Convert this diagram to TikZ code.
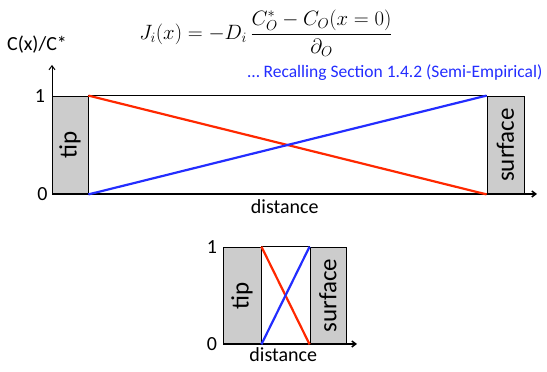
\documentclass[tikz,border=0pt]{standalone}
\usepackage{amsmath}
\usepackage{fontspec}
\setmainfont{Carlito}
\usetikzlibrary{arrows.meta, positioning, calc}

\begin{document}
\begin{tikzpicture}[
		x=1pt, y=1pt,
		>={Straight Barb[length=4pt,width=6pt]},
		wall/.style = {draw, thick, fill=black!20, rotate=90, inner sep=0pt, font=\fontsize{25}{28}\selectfont},
		axis/.style = {->, line width=1.5pt},
		label/.style = {font=\fontsize{20}{24}\selectfont},
		oxidized/.style = {line width=2.2pt, color={rgb,255:red,255;green,40;blue,0}},
		reduced/.style = {line width=2.2pt, color={rgb,255:red,35;green,45;blue,255}}
		]
		\useasboundingbox (0,0) rectangle (547,372);
		
		% large gap
		\node [wall, minimum width=98, minimum height=36] (tip) at (70,227) {tip};
		\node [wall, minimum width=98, minimum height=37] (surf) at (505.5,227) {surface};
		\coordinate (origin) at (52,178);
		\coordinate (xend) at (537,178);
		\coordinate (yend) at (52,307);
		
		\draw [axis] (origin) -- (xend);
		\draw [axis, line width=1pt] (origin) -- (yend);
		\draw [thick] (tip.south east) -- (surf.north east);
		
		\draw [oxidized] (tip.south east) -- (surf.north west);
		\draw [reduced] (tip.south west) -- (surf.north east);
		
		\node [label, left=3pt of tip.north east] (one) {1};
		\node [label, left=1pt of origin] (zero) {0};
		\node [label, below=2pt of $(origin)!0.48!(xend)$] (dist) {distance};
		\node [label] (ylab) at (37,327) {C(x)/C*};
		\node [label] (flux) at (266,339) {$\displaystyle J_i(x) = -D_i\,\frac{C_O^{*} - C_O(x=0)}{\partial_O}$};
		\node [anchor=east, font=\fontsize{17.5}{20}\selectfont, color={rgb,255:red,35;green,45;blue,255}] (recall) at (546,299) {…\ Recalling Section 1.4.2 (Semi-Empirical)};
		
		% small gap
		\node [wall, minimum width=97, minimum height=38] (stip) at (242,76.5) {tip};
		\node [wall, minimum width=97, minimum height=36] (ssurf) at (328,76.5) {surface};
		\coordinate (sorigin) at (223,28);
		\coordinate (sxend) at (357,28);
		
		\draw [axis] (sorigin) -- (sxend);
		\draw [thick] (stip.south east) -- (ssurf.north east);
		
		\draw [oxidized] (stip.south east) -- (ssurf.north west);
		\draw [reduced] (stip.south west) -- (ssurf.north east);
		
		\node [label, left=2pt of stip.north east] (sone) {1};
		\node [label, left=2pt of stip.north west] (szero) {0};
		\node [label, below=0pt of $(sorigin)!0.45!(sxend)$] (sdist) {distance};
		
	\end{tikzpicture}
\end{document}
